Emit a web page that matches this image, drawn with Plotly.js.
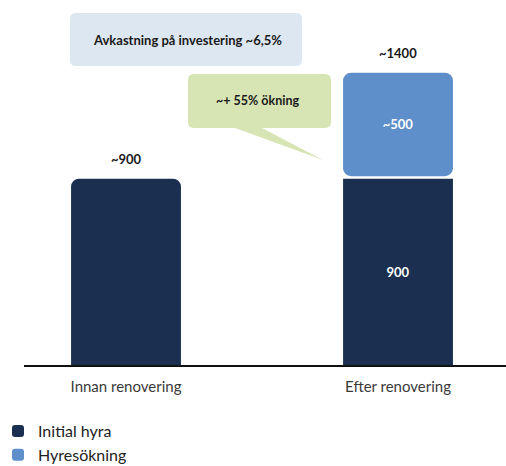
<!DOCTYPE html>
<html>
<head>
<meta charset="utf-8">
<script src="https://cdn.plot.ly/plotly-3.0.1.min.js"></script>
<style>html,body{margin:0;padding:0;background:#fff}#chart{width:506px;height:466px}</style>
</head>
<body>
<div id="chart"></div>
<script>
// Rent before and after renovation (SEK per month)
const categories = ['Innan renovering', 'Efter renovering'];
const initialRent = [900, 900];
const rentIncrease = [null, 500];
const initialLabels = ['', '900'];
const increaseLabels = ['', '~500'];
const totalLabels = ['~900', '~1400'];
const seriesNames = ['Initial hyra', 'Hyresökning'];
const calloutReturn = 'Avkastning på investering ~6,5%';
const calloutGrowth = '~+ 55% ökning';

const W = 506, H = 466;
const M = {l: 24, r: 0, t: 0, b: 101, autoexpand: false};
const PW = W - M.l - M.r, PH = H - M.t - M.b;
const px2x = p => (p - M.l) / PW;
const py2y = p => (H - M.b - p) / PH;

// rounded rectangle (optionally with a pointer tail on the bottom edge), in pixel space -> paper
function roundedPath(x0, y0, x1, y1, r, tail) {
  const P = (x, y) => px2x(x).toFixed(5) + ',' + py2y(y).toFixed(5);
  let d = 'M' + P(x0 + r, y0) + ' L' + P(x1 - r, y0) + ' Q' + P(x1, y0) + ' ' + P(x1, y0 + r);
  d += ' L' + P(x1, y1 - r) + ' Q' + P(x1, y1) + ' ' + P(x1 - r, y1);
  if (tail) {
    d += ' L' + P(tail[1], y1) + ' L' + P(tail[2][0], tail[2][1]) + ' L' + P(tail[0], y1);
  }
  d += ' L' + P(x0 + r, y1) + ' Q' + P(x0, y1) + ' ' + P(x0, y1 - r);
  d += ' L' + P(x0, y0 + r) + ' Q' + P(x0, y0) + ' ' + P(x0 + r, y0) + ' Z';
  return d;
}

const FONT = 'Lato, "Open Sans", sans-serif';
const dark = '#1b3050';
const light = '#5e8fca';

const totals = initialRent.map((v, i) => v + (rentIncrease[i] || 0));

const traces = [
  {
    type: 'bar', name: seriesNames[0], x: categories, y: initialRent,
    text: initialLabels, textposition: 'inside', insidetextanchor: 'middle',
    textfont: {color: '#ffffff', size: 13, family: FONT, weight: 700},
    marker: {color: dark, cornerradius: 8}, width: 0.404, hoverinfo: 'skip'
  },
  {
    type: 'bar', name: seriesNames[1], x: categories, y: rentIncrease,
    base: initialRent.map(v => v + 12),
    text: increaseLabels, textposition: 'inside', insidetextanchor: 'middle',
    textfont: {color: '#ffffff', size: 13, family: FONT, weight: 700},
    marker: {color: light, cornerradius: 8}, width: 0.404, hoverinfo: 'skip'
  }
];

const annotations = categories.map((c, i) => ({
  x: c, y: totals[i] + (rentIncrease[i] ? 12 : 0), xref: 'x', yref: 'y',
  text: '<b>' + totalLabels[i] + '</b>', showarrow: false,
  yanchor: 'bottom', yshift: 10,
  font: {family: FONT, size: 13, color: '#1a1a1a'}
}));
annotations.push(
  {x: px2x(187), y: py2y(40), xref: 'paper', yref: 'paper', showarrow: false,
   xanchor: 'center', yanchor: 'middle',
   text: '<b>' + calloutReturn + '</b>', font: {family: FONT, size: 13, color: '#1a1a1a'}},
  {x: px2x(257), y: py2y(101), xref: 'paper', yref: 'paper', showarrow: false,
   xanchor: 'center', yanchor: 'middle',
   text: '<b>' + calloutGrowth + '</b>', font: {family: FONT, size: 12.5, color: '#1a1a1a'}}
);

const layout = {
  width: W, height: H, margin: M,
  paper_bgcolor: '#ffffff', plot_bgcolor: '#ffffff',
  barmode: 'overlay', showlegend: true,
  font: {family: FONT, color: '#333333'},
  xaxis: {
    type: 'category', range: [-0.375, 1.397], showgrid: false, zeroline: false,
    showline: true, linecolor: '#111111', linewidth: 1.5, ticks: '',
    ticklabelstandoff: 7, automargin: false,
    tickfont: {family: FONT, size: 15, color: '#3a3a3a'}, fixedrange: true
  },
  yaxis: {range: [0, 1763], visible: false, fixedrange: true, automargin: false},
  legend: {
    xref: 'paper', yref: 'paper',
    x: px2x(-2), xanchor: 'left', y: py2y(414), yanchor: 'top',
    orientation: 'v', font: {family: FONT, size: 16, color: '#222222'},
    itemwidth: 30, tracegroupgap: 0, traceorder: 'normal', bgcolor: 'rgba(0,0,0,0)'
  },
  shapes: [
    {type: 'path', xref: 'paper', yref: 'paper', layer: 'below',
     path: roundedPath(70, 13, 302, 66, 6), fillcolor: '#dde7f1', line: {width: 0}},
    {type: 'path', xref: 'paper', yref: 'paper', layer: 'below',
     path: roundedPath(188, 74, 331, 128, 6, [235, 262, [323, 160]]), fillcolor: '#d7e4b3', line: {width: 0}}
  ],
  annotations: annotations
};

Plotly.newPlot('chart', traces, layout, {displayModeBar: false, staticPlot: true});
</script>
</body>
</html>
